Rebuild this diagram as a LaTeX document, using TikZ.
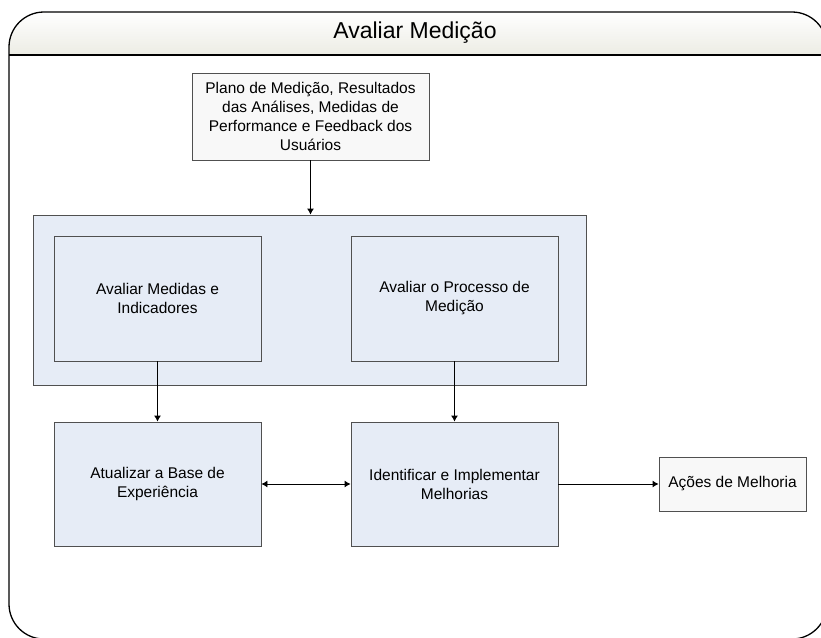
\documentclass[tikz,border=0pt]{standalone}
\usepackage{fontspec}
\setmainfont{Liberation Sans}
\usepackage{tikz}
\usetikzlibrary{positioning, arrows.meta}
\definecolor{caixaazul}{RGB}{230,236,246}
\definecolor{caixacinza}{RGB}{248,248,248}
\definecolor{tituloverde}{RGB}{236,236,228}
\definecolor{borda}{RGB}{80,80,80}
\tikzset{
  caixa/.style={draw=borda, line width=0.9pt, align=center, inner sep=2pt,
    font=\fontsize{15.5}{19}\selectfont},
  seta/.style={-{Latex[length=6pt,width=7pt]}, line width=0.9pt},
}

\begin{document}
\begin{tikzpicture}[x=1pt, y=-1pt]
            \useasboundingbox (0, 0) rectangle (821, 637);
            % moldura com barra de titulo
            \begin{scope}
                \clip (0, 0) rectangle (821, 637);
                \fill [white, rounded corners=35pt] (9, 12) rectangle (827, 639);
                \begin{scope}
                    \clip [rounded corners=35pt] (9, 12) rectangle (827, 639);
                    \shade [top color=white, bottom color=tituloverde] (9, 12) rectangle (827, 55);
                \end{scope}
                \draw [line width=1.3pt] (9, 55) -- (827, 55);
                \draw [line width=1.3pt, rounded corners=35pt] (9, 12) rectangle (827, 639);
            \end{scope}
            \node (titulo) at (415, 33) {\fontsize{23}{26}\selectfont Avaliar Medição};

            \node [caixa, fill=caixacinza, minimum width=237, minimum height=87] (plano) at (310.5, 116.5)
                {Plano de Medição, Resultados\\ das Análises, Medidas de\\ Performance e Feedback dos\\ Usuários};
            \node [caixa, fill=caixaazul, minimum width=553, minimum height=170] (grupo) at (309.5, 300) {};
            \node [caixa, fill=caixaazul, minimum width=207, minimum height=125] (medidas) at (157.5, 298.5)
                {Avaliar Medidas e\\ Indicadores};
            \node [caixa, fill=caixaazul, minimum width=207, minimum height=125] (processo) at (454.5, 298.5)
                {Avaliar o Processo de\\ Medição};
            \node [caixa, fill=caixaazul, minimum width=207, minimum height=124] (base) at (157.5, 484)
                {Atualizar a Base de\\ Experiência};
            \node [caixa, fill=caixaazul, minimum width=207, minimum height=124] (melhorias) at (454.5, 484)
                {Identificar e Implementar\\ Melhorias};
            \node [caixa, fill=caixacinza, minimum width=147, minimum height=54] (acoes) at (732.5, 484)
                {Ações de Melhoria};

            \draw [seta] (plano.south) -- (plano.south |- grupo.north);
            \draw [seta] (medidas.south) -- (base.north);
            \draw [seta] (processo.south) -- (melhorias.north);
            \draw [seta, {Latex[length=6pt,width=7pt]}-{Latex[length=6pt,width=7pt]}] (base.east) -- (melhorias.west);
            \draw [seta] (melhorias.east) -- (acoes.west);
        \end{tikzpicture}
\end{document}
